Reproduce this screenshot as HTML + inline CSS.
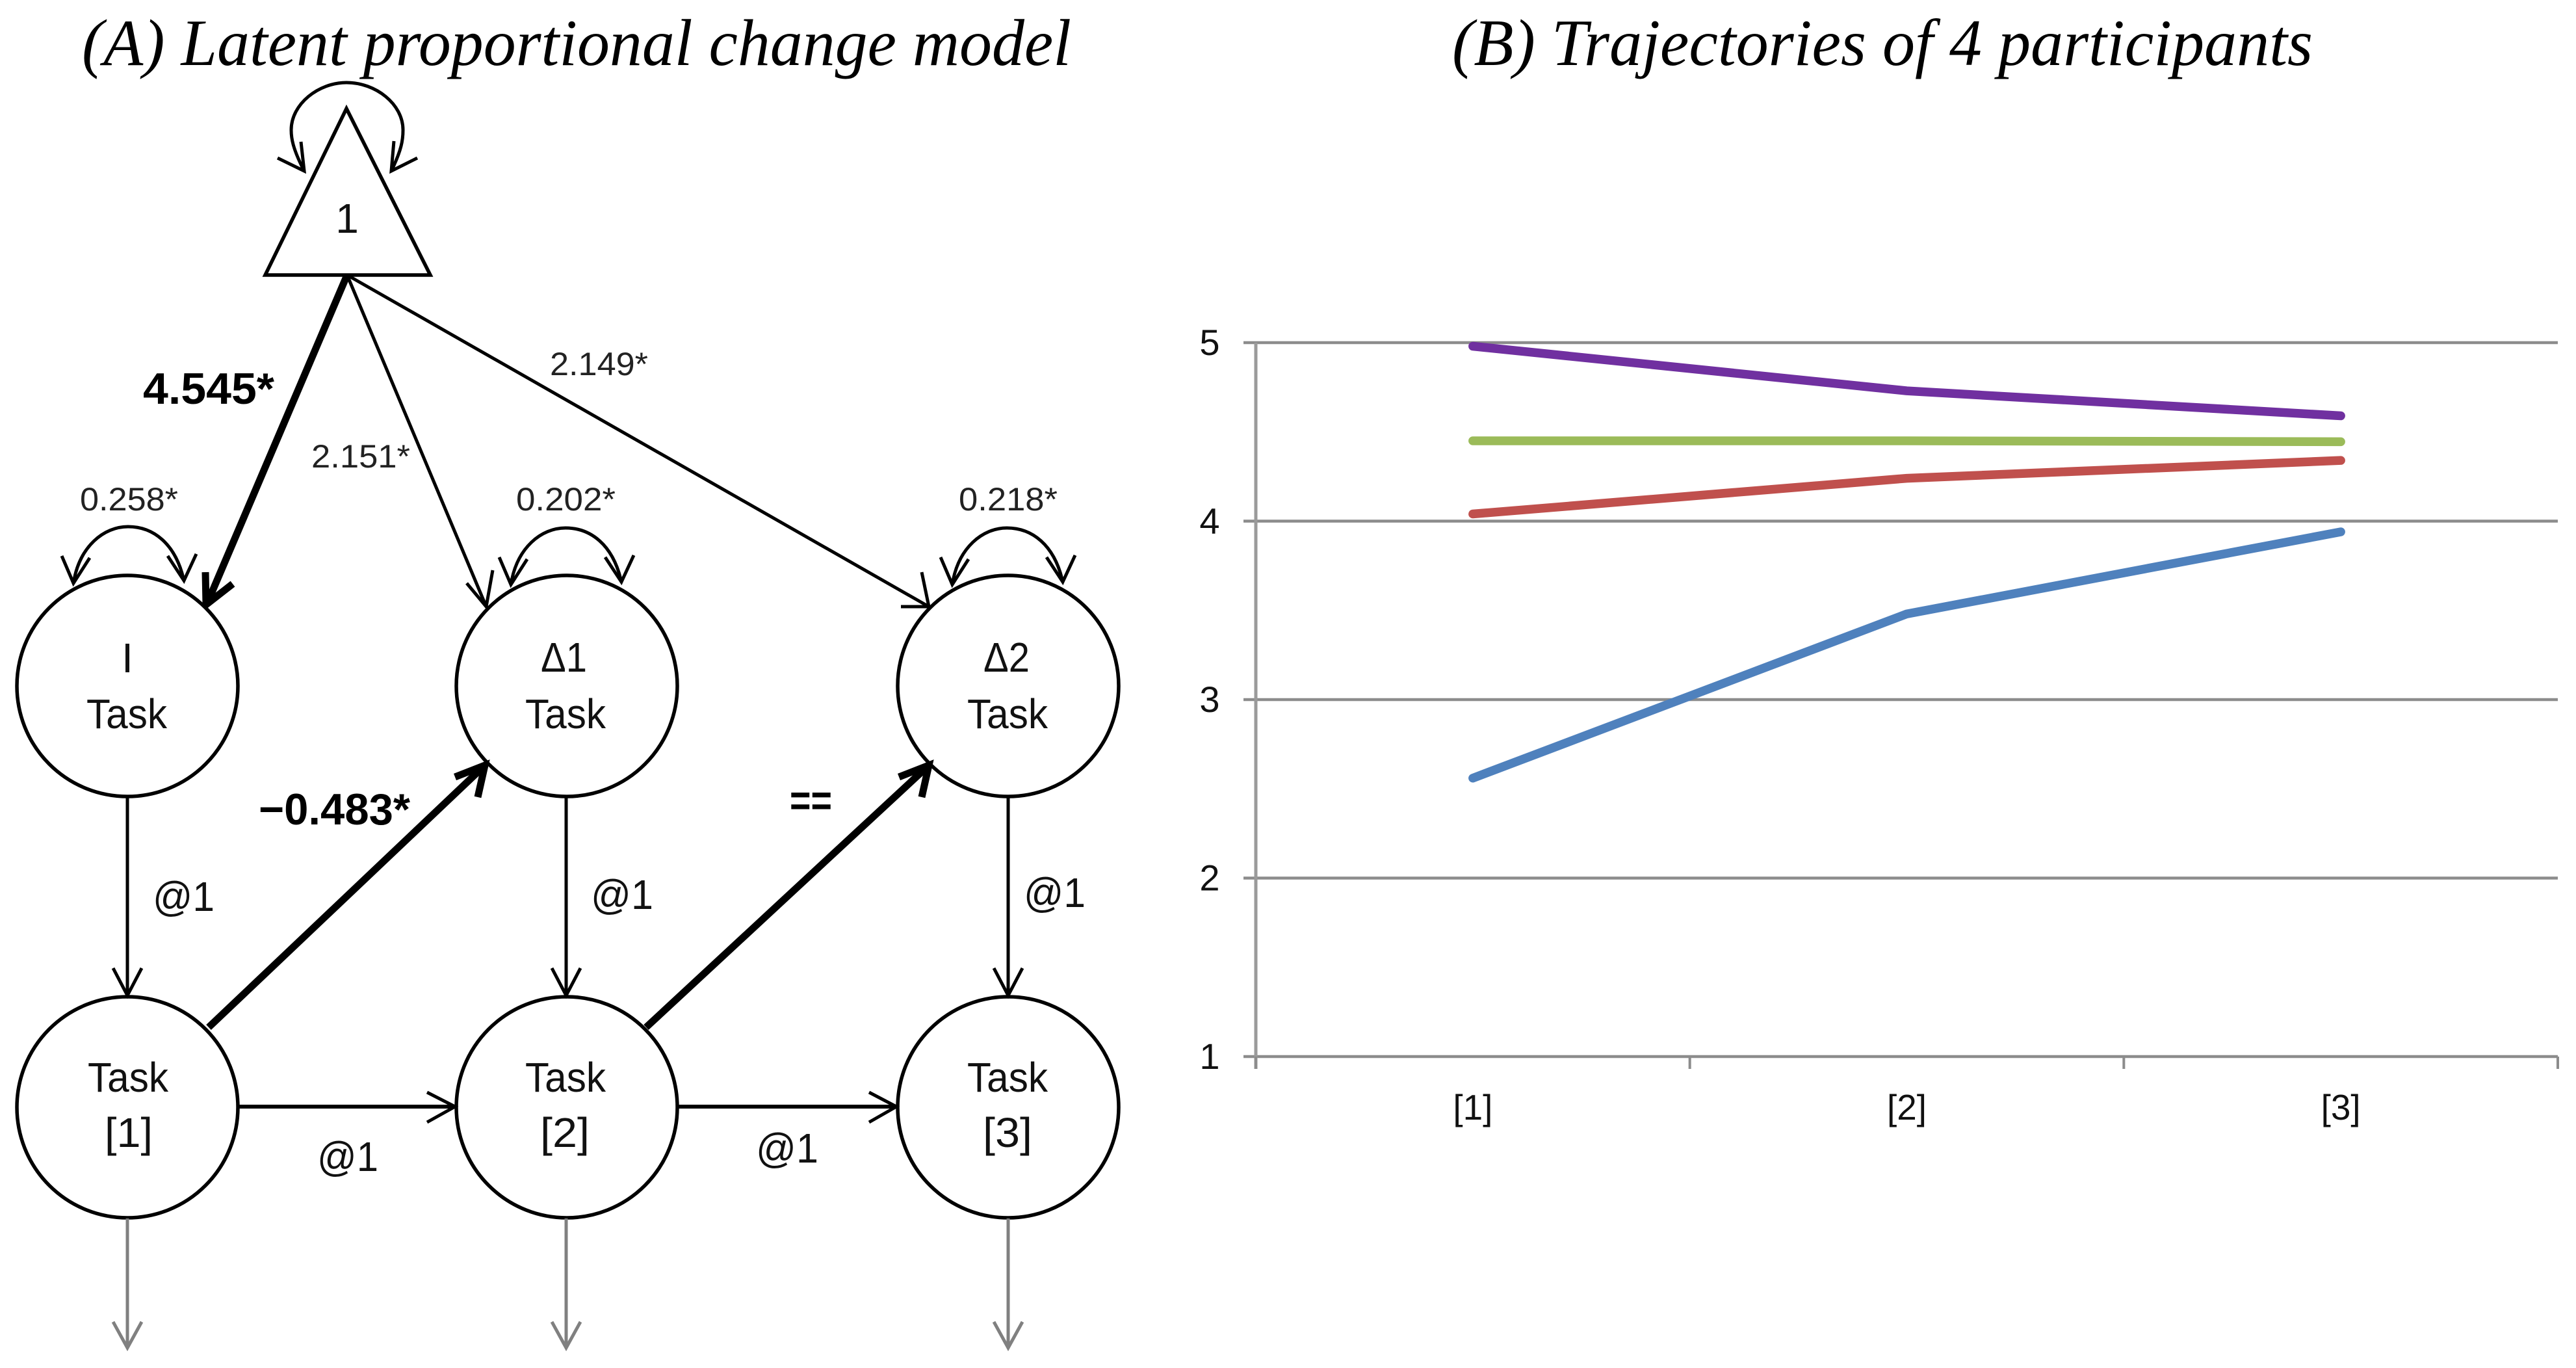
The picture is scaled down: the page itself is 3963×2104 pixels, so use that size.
<!DOCTYPE html>
<html lang="en">
<head>
<meta charset="utf-8">
<title>Latent proportional change model and participant trajectories</title>
<style>
html,body{margin:0;padding:0;background:#fff;}
svg{display:block;}
text{font-family:"Liberation Sans",sans-serif;fill:#111;}
.title{font-family:"Liberation Serif",serif;font-style:italic;font-size:102px;fill:#000;}
.ln{fill:none;stroke:#000;stroke-width:5;}
.thick{fill:none;stroke:#000;stroke-width:11;}
.gray{fill:none;stroke:#808080;stroke-width:5;}
.node{fill:#fff;stroke:#000;stroke-width:5.5;}
.nl{font-size:64px;}
.sm{font-size:50px;fill:#222;}
.b{font-size:68px;font-weight:bold;fill:#000;}
</style>
</head>
<body>
<svg id="figure" width="3963" height="2104" viewBox="0 0 3963 2104" xmlns="http://www.w3.org/2000/svg">
<rect x="0" y="0" width="3963" height="2104" fill="#fff"/>

<text class="title" x="126" y="100" textLength="1522" lengthAdjust="spacingAndGlyphs">(A) Latent proportional change model</text>
<text class="title" x="2234" y="100" textLength="1324" lengthAdjust="spacingAndGlyphs">(B) Trajectories of 4 participants</text>

<g>
  <polygon class="node" points="533,167 408,423 662,423"/>
  <text class="nl" x="534" y="358" text-anchor="middle" font-size="66">1</text>

  <g>
    <path class="ln" d="M468 263 C 450 228,448 212,448 200 C 448 160,490 127,533 127 C 578 127,620 160,620 200 C 620 215,618 230,602 263"/>
    <polyline class="ln" points="427,243 468,263 463,218"/>
    <polyline class="ln" points="642,243 602,263 606,217"/>
  </g>

  <line class="thick" x1="534" y1="423" x2="320" y2="925"/>
  <polyline class="thick" points="358,898 317,930 316,880"/>
  <line class="ln" x1="534" y1="423" x2="748" y2="933"/>
  <polyline class="ln" points="758,877 748,933 718,897"/>
  <line class="ln" x1="534" y1="423" x2="1429" y2="933"/>
  <polyline class="ln" points="1418,880 1429,933 1386,933"/>

  <g>
    <path class="ln" d="M113 897 C 122 840,160 810,197 810 C 235 810,270 835,283 893"/>
    <polyline class="ln" points="95,855 113,897 138,858"/>
    <polyline class="ln" points="258,855 283,893 302,852"/>
  </g>
  <g transform="translate(673,2)">
    <path class="ln" d="M113 897 C 122 840,160 810,197 810 C 235 810,270 835,283 893"/>
    <polyline class="ln" points="95,855 113,897 138,858"/>
    <polyline class="ln" points="258,855 283,893 302,852"/>
  </g>
  <g transform="translate(1352,2)">
    <path class="ln" d="M113 897 C 122 840,160 810,197 810 C 235 810,270 835,283 893"/>
    <polyline class="ln" points="95,855 113,897 138,858"/>
    <polyline class="ln" points="258,855 283,893 302,852"/>
  </g>

  <circle class="node" cx="196" cy="1055" r="170"/>
  <circle class="node" cx="872" cy="1055" r="170"/>
  <circle class="node" cx="1551" cy="1055" r="170"/>
  <circle class="node" cx="196" cy="1703" r="170"/>
  <circle class="node" cx="872" cy="1703" r="170"/>
  <circle class="node" cx="1551" cy="1703" r="170"/>

  <text class="nl" x="196" y="1034" text-anchor="middle">I</text>
  <text class="nl" x="133" y="1120" textLength="124" lengthAdjust="spacingAndGlyphs">Task</text>
  <text class="nl" x="832" y="1033" textLength="71" lengthAdjust="spacingAndGlyphs" style="font-family:'Liberation Sans','DejaVu Sans',sans-serif">Δ1</text>
  <text class="nl" x="808" y="1120" textLength="124" lengthAdjust="spacingAndGlyphs">Task</text>
  <text class="nl" x="1513" y="1033" textLength="71" lengthAdjust="spacingAndGlyphs" style="font-family:'Liberation Sans','DejaVu Sans',sans-serif">Δ2</text>
  <text class="nl" x="1488" y="1120" textLength="124" lengthAdjust="spacingAndGlyphs">Task</text>

  <text class="nl" x="135" y="1679" textLength="124" lengthAdjust="spacingAndGlyphs">Task</text>
  <text class="nl" x="161" y="1764" textLength="74" lengthAdjust="spacingAndGlyphs">[1]</text>
  <text class="nl" x="808" y="1679" textLength="124" lengthAdjust="spacingAndGlyphs">Task</text>
  <text class="nl" x="831" y="1764" textLength="76" lengthAdjust="spacingAndGlyphs">[2]</text>
  <text class="nl" x="1488" y="1679" textLength="124" lengthAdjust="spacingAndGlyphs">Task</text>
  <text class="nl" x="1512" y="1764" textLength="76" lengthAdjust="spacingAndGlyphs">[3]</text>

  <g>
    <line class="ln" x1="196" y1="1224" x2="196" y2="1533"/><polyline class="ln" points="174,1489 196,1531 218,1489"/>
    <line class="ln" x1="871" y1="1224" x2="871" y2="1533"/><polyline class="ln" points="849,1489 871,1531 893,1489"/>
    <line class="ln" x1="1551" y1="1224" x2="1551" y2="1533"/><polyline class="ln" points="1529,1489 1551,1531 1573,1489"/>
  </g>
  <g>
    <line class="ln" style="stroke-width:6" x1="366" y1="1702" x2="700" y2="1702"/><polyline class="ln" points="657,1680 700,1702 657,1726"/>
    <line class="ln" style="stroke-width:6" x1="1042" y1="1702" x2="1379" y2="1702"/><polyline class="ln" points="1337,1680 1379,1702 1337,1726"/>
  </g>
  <g>
    <line class="thick" x1="321" y1="1580" x2="746" y2="1177"/><polyline class="thick" points="700,1195 746,1177 735,1226"/>
    <line class="thick" x1="994" y1="1580" x2="1429" y2="1177"/><polyline class="thick" points="1383,1195 1429,1177 1418,1226"/>
  </g>
  <g>
    <line class="gray" x1="196" y1="1874" x2="196" y2="2073"/><polyline class="gray" points="174,2033 196,2073 218,2033"/>
    <line class="gray" x1="871" y1="1874" x2="871" y2="2073"/><polyline class="gray" points="849,2033 871,2073 893,2033"/>
    <line class="gray" x1="1551" y1="1874" x2="1551" y2="2073"/><polyline class="gray" points="1529,2033 1551,2073 1573,2033"/>
  </g>

  <text class="b" x="220" y="621" textLength="202" lengthAdjust="spacingAndGlyphs">4.545*</text>
  <text class="sm" x="846" y="577" textLength="151" lengthAdjust="spacingAndGlyphs">2.149*</text>
  <text class="sm" x="479" y="719" textLength="152" lengthAdjust="spacingAndGlyphs">2.151*</text>
  <text class="sm" x="123" y="785" textLength="151" lengthAdjust="spacingAndGlyphs">0.258*</text>
  <text class="sm" x="794" y="785" textLength="153" lengthAdjust="spacingAndGlyphs">0.202*</text>
  <text class="sm" x="1475" y="785" textLength="152" lengthAdjust="spacingAndGlyphs">0.218*</text>
  <text class="b" x="398" y="1268" textLength="233" lengthAdjust="spacingAndGlyphs">−0.483*</text>
  <text class="b" x="1215" y="1254" textLength="65" lengthAdjust="spacingAndGlyphs">==</text>
  <text class="nl" x="235" y="1401" textLength="95" lengthAdjust="spacingAndGlyphs">@1</text>
  <text class="nl" x="909" y="1398" textLength="96" lengthAdjust="spacingAndGlyphs">@1</text>
  <text class="nl" x="1575" y="1395" textLength="95" lengthAdjust="spacingAndGlyphs">@1</text>
  <text class="nl" x="488" y="1801" textLength="94" lengthAdjust="spacingAndGlyphs">@1</text>
  <text class="nl" x="1163" y="1788" textLength="96" lengthAdjust="spacingAndGlyphs">@1</text>
</g>

<g id="chart"></g>
</svg>

<script>
const categories = ["[1]", "[2]", "[3]"];
const yTicks = [1, 2, 3, 4, 5];
const blueValues = [2.56, 3.48, 3.94];
const redValues = [4.04, 4.24, 4.34];
const greenValues = [4.45, 4.45, 4.445];
const purpleValues = [4.98, 4.73, 4.59];

const NS = "http://www.w3.org/2000/svg";
const chart = document.getElementById("chart");
const left = 1932, right = 3935, top1 = 527, bottom = 1625;
const yMin = 1, yMax = 5;
function yScale(v) { return bottom - (v - yMin) / (yMax - yMin) * (bottom - top1); }
const bandWidth = (right - left) / categories.length;
function xScale(i) { return left + bandWidth * (i + 0.5); }
function make(tag, attrs) {
  const el = document.createElementNS(NS, tag);
  for (const k in attrs) el.setAttribute(k, attrs[k]);
  chart.appendChild(el);
  return el;
}

yTicks.forEach(function (t) {
  const grid = make("line", { x1: left - 19, x2: right, y1: yScale(t), y2: yScale(t), stroke: "#8c8c8c", "stroke-width": 4.5 });
  
  
  const label = make("text", { x: 1861, y: yScale(t) + 19, "text-anchor": "middle", "font-size": 56 });
  
  
  label.textContent = t;
});

const yAxis = make("line", { x1: left, x2: left, y1: top1, y2: bottom + 19, stroke: "#9a9a9a", "stroke-width": 5 });



for (let i = 0; i <= categories.length; i++) {
  const tx = left + bandWidth * i;
  const tick = make("line", { x1: tx, x2: tx, y1: bottom, y2: bottom + 19, stroke: "#8c8c8c", "stroke-width": 4 });
  
  
}

categories.forEach(function (c, i) {
  const label = make("text", { x: xScale(i), y: 1722, "text-anchor": "middle", "font-size": 55, textLength: 61, lengthAdjust: "spacingAndGlyphs" });
  
  
  label.textContent = c;
});

function drawSeries(values, color, name) {
  const pts = values.map(function (v, i) { return xScale(i) + "," + yScale(v); }).join(" ");
  const line = make("polyline", { points: pts, fill: "none", stroke: color, "stroke-width": 13.5, "stroke-linecap": "round", "stroke-linejoin": "round" });
  
  
}
drawSeries(blueValues, "#4f81bd", "series-participant-blue");
drawSeries(redValues, "#c0504d", "series-participant-red");
drawSeries(greenValues, "#9bbb59", "series-participant-green");
drawSeries(purpleValues, "#7030a0", "series-participant-purple");
</script>
</body>
</html>
